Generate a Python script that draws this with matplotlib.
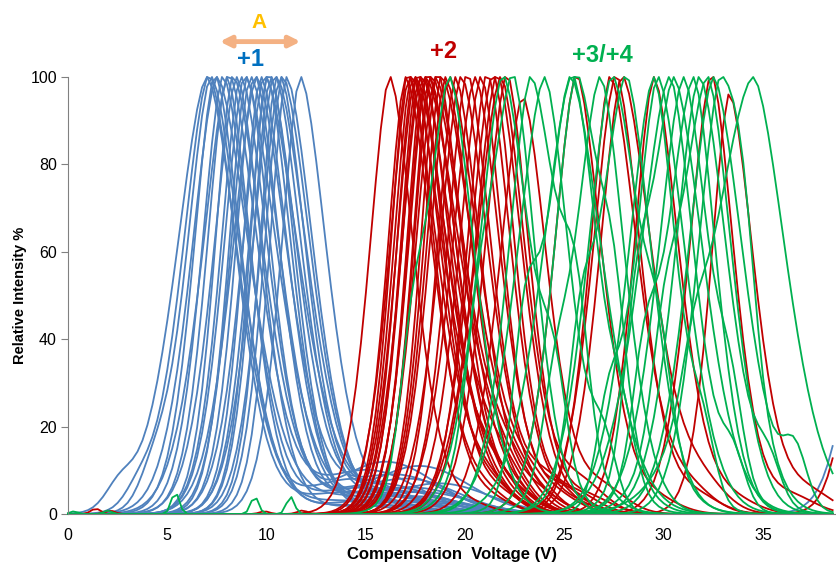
#FAIMS compensation voltage traces for the +1, +2 and +3/+4 charge states
#each trace is described by where it peaks and how wide its two flanks are

import numpy as np
import matplotlib.pyplot as plt

plt.rcParams['font.family'] = ['Liberation Sans', 'DejaVu Sans']

#compensation voltage grid (V), one step per scan
cv = np.arange(0, 38.75, 0.25)

#+1 traces: apex (V), left/right spread (V), low shoulder after the peak (%)
blue_centre = [7.0, 7.1, 7.2, 7.4, 7.5, 7.8, 8.0, 8.1, 8.3, 8.5, 8.7, 8.9, 9.0, 9.2,
               9.4, 9.5, 9.7, 9.9, 10.0, 10.1, 10.2, 10.4, 10.5, 10.7, 10.8, 11.0, 11.7]
blue_left = [1.5, 1.3, 1.2, 1.05, 1.25, 1.05, 1.0, 1.3, 0.9, 1.15, 1.0, 1.05, 0.9, 1.0,
             0.95, 1.2, 0.9, 1.1, 0.85, 1.0, 0.9, 1.1, 0.85, 1.0, 0.9, 0.85, 0.95]
blue_right = [1.5, 1.35, 1.45, 1.3, 1.6, 1.35, 1.2, 1.45, 1.5, 1.25, 1.35, 1.6, 1.2, 1.45,
              1.25, 1.5, 1.35, 1.65, 1.25, 1.4, 1.2, 1.35, 1.5, 1.25, 1.4, 1.35, 1.3]
blue_tail = [3, 5, 2, 8, 4, 6, 3, 10, 5, 2, 7, 4, 12, 3, 6, 9, 4, 5, 2, 8, 3, 6, 4, 11, 5, 3, 7]
#early foot on a few of the widest +1 traces (position V, height %)
blue_foot_at = [2.6, 3.6, 4.3]
blue_foot = [5, 4, 6]

#+2 traces
red_centre = [16.2, 17.0, 17.1, 17.2, 17.3, 17.4, 17.5, 17.6, 17.7, 17.8, 17.9, 18.0, 18.1,
              18.2, 18.3, 18.5, 18.6, 18.8, 19.0, 19.2, 19.5, 19.8, 20.1, 20.5, 20.8, 21.1,
              21.4, 21.6, 21.8, 22.1, 22.9, 25.6, 27.3, 27.6, 27.9, 29.5, 32.4, 33.3]
red_peak = [100, 100, 100, 100, 100, 100, 100, 100, 100, 100, 100, 100, 100,
            100, 100, 100, 100, 100, 100, 100, 100, 100, 100, 100, 100, 100,
            100, 100, 100, 100, 95, 100, 100, 100, 100, 100, 100, 96]
red_left = [1.0, 0.9, 0.85, 1.0, 0.9, 0.85, 0.95, 0.85, 0.9, 1.0, 0.85, 0.9, 0.95,
            0.85, 0.9, 1.0, 0.85, 0.9, 0.95, 1.0, 0.9, 1.1, 1.0, 1.15, 1.1, 1.0,
            1.15, 1.1, 1.25, 1.1, 1.15, 1.1, 1.0, 1.15, 1.1, 1.0, 1.1, 0.9]
red_right = [1.2, 1.35, 1.45, 1.25, 1.55, 1.35, 1.6, 1.45, 1.25, 1.55, 1.35, 1.7, 1.45,
             1.35, 1.6, 1.45, 1.25, 1.55, 1.35, 1.45, 1.25, 1.35, 1.2, 1.25, 1.1, 1.2,
             1.1, 1.25, 1.2, 1.1, 1.2, 1.25, 1.35, 1.2, 1.45, 1.25, 1.1, 1.2]
red_tail = [2, 4, 6, 3, 8, 5, 2, 7, 4, 9, 3, 6, 2, 5, 8, 3, 4, 6, 2, 7,
            5, 3, 8, 4, 6, 3, 5, 2, 7, 4, 6, 3, 5, 4, 6, 3, 4, 5]

#+3/+4 traces, with the shoulder each one carries (position V, height %)
green_centre = [19.2, 21.9, 22.4, 23.3, 24.0, 25.3, 25.4, 25.6, 26.8, 27.4, 28.1, 29.5,
                29.7, 30.3, 30.5, 31.0, 31.5, 31.8, 32.2, 32.5, 32.8, 34.5]
green_left = [1.1, 1.2, 1.25, 1.1, 1.35, 1.2, 1.45, 1.1, 1.25, 1.2, 1.35, 1.25,
              1.1, 1.45, 1.2, 1.25, 1.35, 1.2, 1.45, 1.25, 1.1, 2.0]
green_right = [1.25, 1.35, 1.1, 1.45, 1.2, 1.55, 1.25, 1.35, 1.2, 1.45, 1.25, 1.1,
               1.35, 1.2, 1.45, 1.25, 1.1, 1.35, 1.2, 1.45, 1.25, 1.6]
green_bump_at = [17.3, 24.5, 20.6, 25.6, 27.0, 23.0, 28.0, 27.5, 24.5, 29.8, 25.8, 32.0,
                 27.2, 33.5, 28.6, 33.4, 29.0, 35.3, 30.0, 36.6, 34.0, 31.5]
green_bump = [22, 18, 15, 25, 12, 30, 10, 20, 14, 16, 22, 12,
              18, 10, 24, 14, 20, 8, 16, 12, 20, 10]

#small stray spikes near the baseline (position V, height %)
green_spike_at = [0.3, 2.0, 5.4, 9.4, 11.2]
green_spike = [0.6, 0.8, 5, 4, 4]
red_spike_at = [1.4, 2.1, 9.9, 11.8]
red_spike = [1.2, 0.8, 0.6, 0.8]

#traces just starting at the right edge of the scan
edge_blue_at, edge_blue = 41.1, 100
edge_red_at, edge_red = 40.8, 100

SHAPE = 1.7  # peaks are a little sharper than gaussian


def trace(c, left, right, peak=100):
    w = np.where(cv < c, left, right)
    return peak * np.exp(-0.5 * np.abs((cv - c) / w) ** SHAPE)


def bump(c, h, w=0.8):
    return h * np.exp(-0.5 * ((cv - c) / w) ** 2)


fig = plt.figure(figsize=(8.37, 5.63), dpi=100)
ax = fig.add_axes([68 / 837, 49 / 563, 769 / 837, 437 / 563])

blue = "#4F81BD"
red = "#C00000"
green = "#00B050"
lw = 1.3

for i, (c, l, r, t) in enumerate(zip(blue_centre, blue_left, blue_right, blue_tail)):
    y = trace(c, l, r) + bump(c + 7, t, 2.5)
    if i < len(blue_foot):
        y = y + bump(blue_foot_at[i], blue_foot[i], 0.7)
    y = y / y.max() * 100
    ax.plot(cv, y, color=blue, lw=lw, clip_on=False)
ax.plot(cv, trace(edge_blue_at, 1.2, 1.2, edge_blue), color=blue, lw=lw, clip_on=False)

for c, p, l, r, t in zip(red_centre, red_peak, red_left, red_right, red_tail):
    y = trace(c, l, r) + bump(c + 4, t, 1.2)
    y = y / y.max() * p
    ax.plot(cv, y, color=red, lw=lw, clip_on=False)
ax.plot(cv, trace(edge_red_at, 1.0, 1.0, edge_red), color=red, lw=lw, clip_on=False)
for c, h in zip(red_spike_at, red_spike):
    ax.plot(cv, bump(c, h, 0.25), color=red, lw=lw, clip_on=False)

for c, l, r, bc, bh in zip(green_centre, green_left, green_right, green_bump_at, green_bump):
    y = trace(c, l, r) + bump(bc, bh, 0.6)
    y = y / y.max() * 100
    ax.plot(cv, y, color=green, lw=lw, clip_on=False)
for c, h in zip(green_spike_at, green_spike):
    ax.plot(cv, bump(c, h, 0.2), color=green, lw=lw, clip_on=False)

ax.set_xlim(0, 38.72)
ax.set_ylim(0, 100)
ax.set_xticks([0, 5, 10, 15, 20, 25, 30, 35])
ax.set_yticks([0, 20, 40, 60, 80, 100])
ax.tick_params(axis='y', length=5, color='#808080', labelsize=11.5, pad=3)
ax.tick_params(axis='x', length=0, labelsize=11.5, pad=10)
for s in ['top', 'right']:
    ax.spines[s].set_visible(False)
ax.spines['left'].set_color('#808080')
ax.spines['bottom'].set_color('#808080')

ax.set_xlabel("Compensation  Voltage (V)", fontsize=12, fontweight='bold', labelpad=3)
ax.set_ylabel("Relative Intensity %", fontsize=10.5, fontweight='bold', labelpad=2)

#charge state labels above the traces
ax.text(9.2, 104.0, "+1", color="#0070C0", fontsize=17, fontweight='bold',
        ha='center', va='center', clip_on=False)
ax.text(18.9, 105.9, "+2", color=red, fontsize=17, fontweight='bold',
        ha='center', va='center', clip_on=False)
ax.text(26.9, 105.0, "+3/+4", color=green, fontsize=17, fontweight='bold',
        ha='center', va='center', clip_on=False)
ax.text(9.6, 112.4, "A", color="#FFC000", fontsize=15, fontweight='bold',
        ha='center', va='center', clip_on=False)
ax.annotate("", xy=(7.5, 108.1), xytext=(11.85, 108.1), annotation_clip=False,
            arrowprops=dict(arrowstyle='<|-|>', color="#F4B183", lw=3.5, mutation_scale=16))

plt.savefig("out.png", dpi=100)
